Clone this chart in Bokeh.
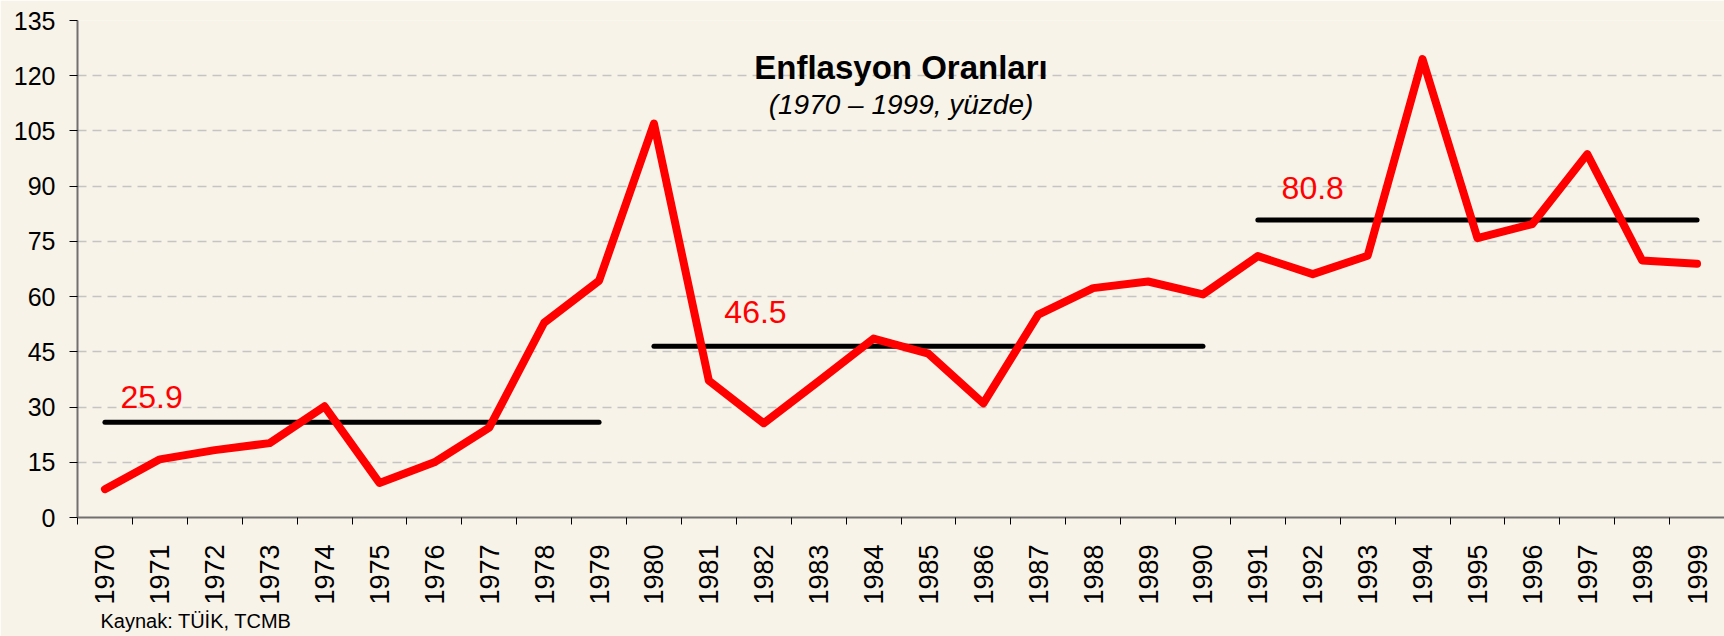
import math
from bokeh.plotting import figure
from bokeh.models import ColumnDataSource, FixedTicker, Label, Range1d, Title
from bokeh.core.properties import value
from bokeh.embed import file_html
from bokeh.resources import INLINE

# ---------------- data ----------------
years = list(range(1970, 2000))
inflation = [7.7, 15.8, 18.3, 20.2, 30.2, 9.4, 15.0, 24.4, 52.9, 64.3,
             107.0, 37.2, 25.6, 37.0, 48.6, 44.5, 31.0, 55.1, 62.3, 64.1,
             60.6, 71.0, 66.1, 71.1, 124.5, 75.9, 79.7, 98.7, 69.8, 68.9]
period_start = [1970, 1980, 1991]
period_end = [1979, 1990, 1999]
period_mean = [25.9, 46.5, 80.8]
period_label = ["25.9", "46.5", "80.8"]
y_ticks = [0, 15, 30, 45, 60, 75, 90, 105, 120, 135]
title_text = "Enflasyon Oranları"
subtitle_text = "(1970 – 1999, yüzde)"
source_text = "Kaynak: TÜİK, TCMB"

# ---------------- style ----------------
BG = "#F8F3E8"
FONT = "Liberation Sans"

x_start = years[0] - 0.5
x_end = years[-1] + 0.5

p = figure(width=1724, height=636, output_backend="svg", toolbar_location=None,
           x_range=Range1d(x_start, x_end), y_range=Range1d(y_ticks[0], y_ticks[-1]),
           min_border_left=77, min_border_right=0, min_border_top=20,
           min_border_bottom=119)
p.background_fill_color = BG
p.border_fill_color = BG
p.outline_line_color = None

# grid
p.xgrid.grid_line_color = None
p.ygrid.grid_line_color = "#C4C4C4"
p.ygrid.grid_line_width = 1.5
p.ygrid.grid_line_dash = "9 6"

# y axis
p.yaxis.ticker = FixedTicker(ticks=y_ticks)
p.yaxis.axis_line_color = "#707070"
p.yaxis.axis_line_width = 2
p.yaxis.major_tick_line_color = "black"
p.yaxis.major_tick_out = 8
p.yaxis.major_tick_in = 0
p.yaxis.minor_tick_line_color = None
p.yaxis.major_label_standoff = 14
p.yaxis.major_label_text_font = FONT
p.yaxis.major_label_text_font_size = "25px"
p.yaxis.major_label_text_color = "black"

# x axis: labels at year centres, ticks at year boundaries
boundaries = [y - 0.5 for y in years] + [years[-1] + 0.5]
p.xaxis.ticker = FixedTicker(ticks=years, minor_ticks=boundaries)
p.xaxis.major_label_overrides = {y: str(y) for y in years}
p.xaxis.axis_line_color = "#707070"
p.xaxis.axis_line_width = 2
p.xaxis.major_tick_line_color = None
p.xaxis.major_tick_out = 0
p.xaxis.major_tick_in = 0
p.xaxis.minor_tick_line_color = "black"
p.xaxis.minor_tick_out = 7
p.xaxis.minor_tick_in = 0
p.xaxis.major_label_orientation = math.pi / 2
p.xaxis.major_label_standoff = 20
p.xaxis.major_label_text_font = FONT
p.xaxis.major_label_text_font_size = "27px"
p.xaxis.major_label_text_color = "black"

# period means (black lines)
means_src = ColumnDataSource(dict(x0=period_start, x1=period_end, y=period_mean,
                                  label=period_label))
p.segment(x0="x0", y0="y", x1="x1", y1="y", source=means_src,
          line_color="black", line_width=5, line_cap="round")

# inflation series
p.line(years, inflation, line_color="#FF0000", line_width=8,
       line_join="round", line_cap="round")

# mean labels (placed relative to each period's start and its mean)
label_dx = [0.85, 1.85, 1.0]
label_dy = [-25, -34, -32]
lab_src = ColumnDataSource(dict(x=[s + d for s, d in zip(period_start, label_dx)],
                                y=period_mean, text=period_label, yo=label_dy))
p.text(x="x", y="y", text="text", y_offset="yo", source=lab_src,
       text_align="center", text_baseline="alphabetic",
       text_color="#FF0000", text_font=value(FONT), text_font_size="32px")

# title & subtitle
x_mid = (x_start + x_end) / 2
p.add_layout(Label(x=x_mid, y=122.3, text=title_text, text_align="center",
                   text_baseline="alphabetic", text_font=FONT,
                   text_font_style="bold", text_font_size="33px",
                   text_color="black"))
p.add_layout(Label(x=x_mid, y=112.2, text=subtitle_text, text_align="center",
                   text_baseline="alphabetic", text_font=FONT,
                   text_font_style="italic", text_font_size="28px",
                   text_color="black"))

# source note below the axis
p.add_layout(Title(text=source_text, align="left", offset=23, standoff=0,
                   text_font=FONT, text_font_style="normal",
                   text_font_size="20px", text_color="black"), "below")

open("out.html", "w").write(file_html(p, INLINE))
